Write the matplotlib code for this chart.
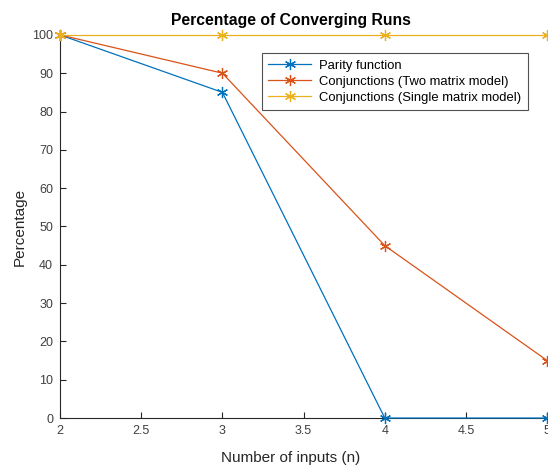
import matplotlib
matplotlib.use("Agg")
import matplotlib.pyplot as plt

plt.rcParams['font.family'] = ['Liberation Sans', 'DejaVu Sans']

n_inputs = [2, 3, 4, 5]
parity = [100, 85, 0, 0]
conj_two = [100, 90, 45, 15]
conj_single = [100, 100, 100, 100]

labels = ['Parity function', 'Conjunctions (Two matrix model)',
          'Conjunctions (Single matrix model)']
colors = ['#0072BD', '#D95319', '#EDB120']

fig = plt.figure(figsize=(5.48, 4.65), dpi=100)
ax = fig.add_axes([0.1095, 0.101, 0.889, 0.824])

# MATLAB-style asterisk marker
star = (6, 2, 0)
for ys, lab, c in zip([parity, conj_two, conj_single], labels, colors):
    ax.plot(n_inputs, ys, color=c, marker=star, markersize=8, mew=0.9,
            lw=0.9, label=lab, clip_on=False, zorder=3)

ax.set_xlim(2, 5)
ax.set_ylim(0, 100)
ax.set_xticks([2, 2.5, 3, 3.5, 4, 4.5, 5])
ax.set_xticklabels(['2', '2.5', '3', '3.5', '4', '4.5', '5'])
ax.set_yticks(range(0, 101, 10))

for s in ['top', 'right']:
    ax.spines[s].set_visible(False)
for s in ['left', 'bottom']:
    ax.spines[s].set_color('#262626')
    ax.spines[s].set_linewidth(0.8)
ax.tick_params(direction='in', length=4, width=0.8, colors='#262626',
               labelsize=9, pad=5)
for t in ax.get_xticklabels() + ax.get_yticklabels():
    t.set_color('#404040')

ax.set_title('Percentage of Converging Runs', fontsize=11.3,
             fontweight='bold', pad=7, x=0.474)
ax.set_xlabel('Number of inputs (n)', fontsize=11, labelpad=10, color='#262626')
ax.xaxis.set_label_coords(0.474, -0.085)
ax.set_ylabel('Percentage', fontsize=11, labelpad=4, color='#262626')

leg = ax.legend(loc='upper right', bbox_to_anchor=(0.974, 0.97),
                fontsize=9.4, frameon=True, fancybox=False,
                edgecolor='#262626', handlelength=3.3, borderpad=0.5,
                labelspacing=0.3, handletextpad=0.6)
leg.get_frame().set_linewidth(0.8)

fig.savefig('out.png', dpi=100)
